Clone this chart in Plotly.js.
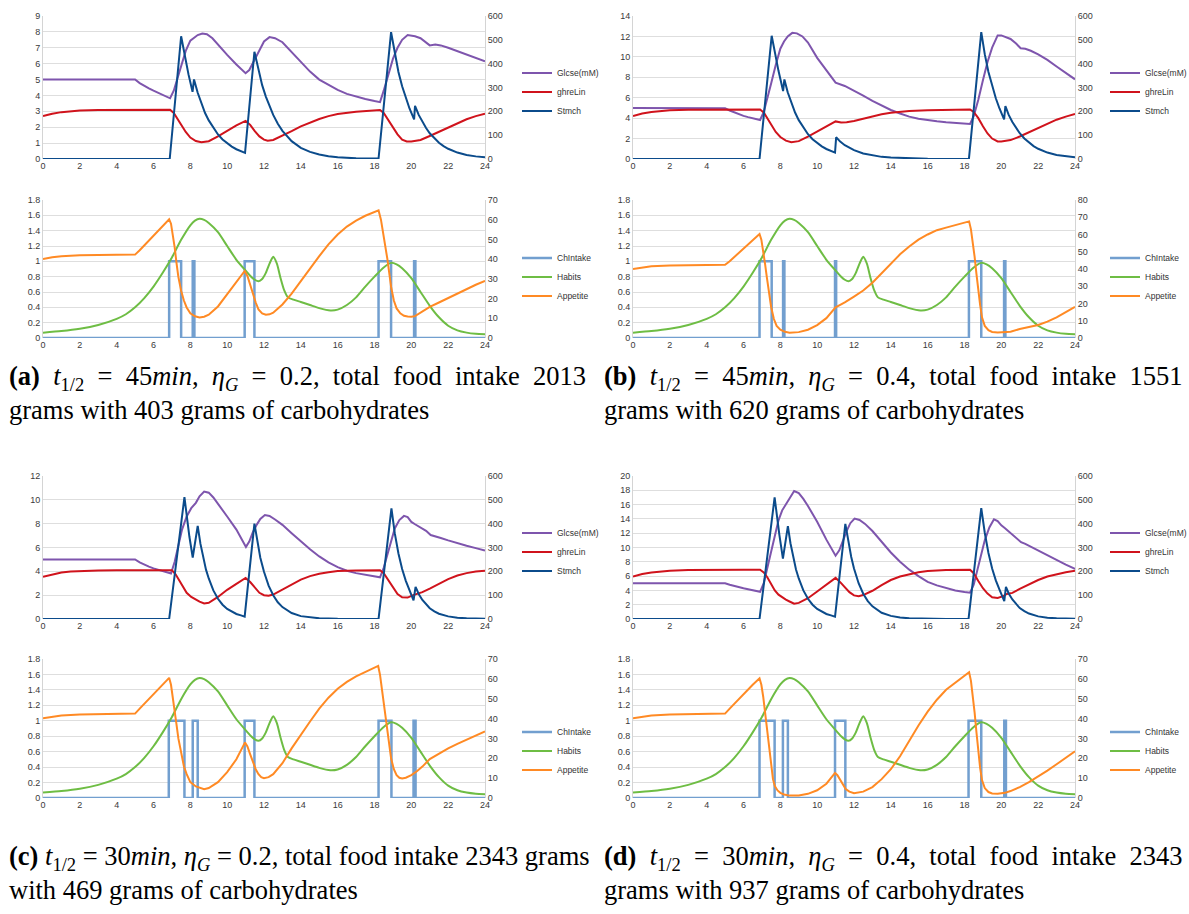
<!DOCTYPE html>
<html><head><meta charset="utf-8">
<script src="https://cdn.plot.ly/plotly-3.0.1.min.js"></script>
<style>html,body{margin:0;padding:0;background:#fff}#chart{width:1189px;height:914px}</style>
</head><body><div id="chart"></div>
<script>
// ---------- Panel (a) ----------
const aGlcT = [0,5,5.25,5.5,5.75,6,6.25,6.5,6.75,6.9,7.1,7.3,7.5,7.75,8,8.2,8.4,8.65,8.9,9.2,9.5,10,10.5,10.8,11,11.2,11.5,11.8,12,12.3,12.6,13,13.5,14,14.5,15,15.5,16,16.5,17,17.5,18,18.3,18.5,18.75,19,19.25,19.5,19.8,20,20.2,20.5,20.8,21,21.3,21.6,22,22.5,23,23.5,24];
const aGlc  = [5,5,4.78,4.6,4.45,4.3,4.17,4.05,3.92,3.82,4.3,5.1,5.9,6.8,7.45,7.65,7.8,7.9,7.85,7.6,7.2,6.55,5.95,5.6,5.4,5.6,6.3,7.0,7.4,7.67,7.6,7.35,6.75,6.1,5.5,5.0,4.65,4.35,4.1,3.93,3.78,3.65,3.58,4.3,5.3,6.3,7.0,7.5,7.8,7.78,7.72,7.6,7.35,7.15,7.2,7.15,7.0,6.8,6.6,6.38,6.15];
const aGhrT = [0,0.5,1,1.5,2,3,4,5,6,6.9,7.1,7.3,7.5,7.75,8,8.3,8.6,9,9.5,10,10.5,11,11.25,11.5,11.75,12,12.2,12.5,13,13.5,14,14.5,15,15.5,16,17,18,18.3,18.5,18.75,19,19.25,19.5,19.75,20,20.2,20.5,21,21.5,22,22.5,23,23.5,24];
const aGhr  = [2.7,2.85,2.95,3.01,3.05,3.09,3.1,3.1,3.1,3.1,2.9,2.55,2.15,1.7,1.35,1.13,1.05,1.12,1.42,1.78,2.12,2.4,2.15,1.75,1.42,1.22,1.15,1.2,1.45,1.75,2.05,2.3,2.52,2.7,2.83,2.98,3.07,3.08,2.9,2.45,1.95,1.55,1.22,1.1,1.1,1.15,1.2,1.45,1.72,2.0,2.28,2.5,2.7,2.85];
const aStmT = [0,6.88,7.5,7.7,7.9,8.12,8.2,8.4,8.6,8.8,9,9.25,9.5,9.75,10,10.25,10.5,10.75,10.97,11.48,11.7,11.9,12.1,12.3,12.5,12.75,13,13.5,14,14.5,15,15.5,16,17,18,18.22,18.9,19.1,19.3,19.5,19.7,19.9,20.15,20.2,20.4,20.6,20.8,21,21.25,21.5,21.75,22,22.5,23,23.5,24];
const aStm  = [0,0,515,430,355,282,334,278,232,193,162,130,103,82,66,52,41,33,26,450,370,310,262,220,185,148,118,75,47,30,19,12,7,3,2,2,532,440,365,305,255,212,166,223,185,155,130,108,86,68,54,43,27,17,11,7];
const aIntT = [0,6.85,7.5,8.13,8.22,10.95,11.48,18.22,18.9,20.15,20.22,24];
const aInt  = [0,1,0,1,0,1,0,1,0,1,0,0];
const aAppT = [0,0.5,1,2,3,4,5,5.25,5.5,5.75,6,6.25,6.5,6.85,6.95,7.05,7.15,7.25,7.35,7.5,7.65,7.8,8,8.25,8.5,8.75,9,9.5,10,10.5,10.95,11.1,11.25,11.4,11.55,11.7,11.9,12.1,12.3,12.5,13,13.5,14,14.5,15,15.5,16,16.5,17,17.5,18,18.22,18.35,18.5,18.6,18.7,18.8,18.9,19.05,19.2,19.4,19.6,19.8,20,20.2,20.5,21,21.5,22,22.5,23,23.5,24];
const aApp  = [40,41,41.5,42,42.1,42.2,42.3,44.5,47,49.5,52,54.3,56.5,60.2,58,53,46,38,31,24,19,15.5,12.5,11,10.4,10.8,11.8,16,22,28,34,31.5,27,22,18,14.5,12.5,11.8,12,12.8,17,22.5,29,35.5,41.5,47.5,52.5,56.5,59.5,62,64,64.8,60,52,46,40,33,26,19,15,12.5,11.3,10.9,10.8,11.1,13,15.8,18,20.3,22.5,24.7,27,29];

// ---------- Habits (same schedule in every panel) ----------
const habT = [0,1,2,3,4,4.5,5,5.5,6,6.5,7,7.5,8,8.25,8.5,8.75,9,9.5,10,10.5,11,11.3,11.5,11.7,11.9,12.1,12.3,12.5,12.7,12.9,13.1,13.3,13.6,14,14.5,15,15.6,16,16.5,17,17.5,18,18.5,18.9,19.2,19.5,20,20.5,21,21.5,22,22.5,23,23.5,24];
const hab  = [0.07,0.09,0.12,0.17,0.25,0.31,0.4,0.52,0.67,0.85,1.05,1.28,1.47,1.53,1.555,1.54,1.5,1.38,1.2,1.02,0.88,0.8,0.76,0.74,0.77,0.85,0.97,1.06,0.97,0.78,0.62,0.53,0.5,0.47,0.43,0.39,0.36,0.37,0.43,0.53,0.67,0.8,0.92,0.98,0.96,0.91,0.78,0.6,0.42,0.27,0.16,0.1,0.07,0.055,0.05];

// ---------- Panel (b) ----------
const bGlcT = [0,5,5.25,5.5,5.75,6,6.25,6.5,6.75,6.9,7.1,7.3,7.5,7.75,8,8.2,8.4,8.65,8.9,9.2,9.5,10,10.5,11,11.5,12,12.5,13,13.5,14,14.5,15,15.5,16,16.5,17,17.5,18,18.3,18.5,18.75,19,19.25,19.5,19.8,20,20.2,20.5,20.8,21.05,21.3,21.6,22,22.5,23,23.5,24];
const bGlc  = [5,4.98,4.75,4.55,4.38,4.22,4.1,3.98,3.88,3.82,4.6,5.9,7.4,9.2,10.8,11.5,12.0,12.35,12.3,12.0,11.4,9.9,8.7,7.47,7.15,6.7,6.2,5.7,5.25,4.8,4.45,4.15,3.95,3.8,3.7,3.6,3.53,3.47,3.43,4.2,5.8,7.7,9.5,10.9,12.1,12.1,11.95,11.75,11.3,10.85,10.8,10.6,10.25,9.7,9.05,8.45,7.8];
const bGhrT = [0,0.5,1,1.5,2,3,4,5,6,6.9,7.1,7.3,7.5,7.75,8,8.3,8.6,9,9.5,10,10.5,11,11.3,11.6,12,12.5,13,13.5,14,15,16,17,18,18.3,18.5,18.75,19,19.25,19.5,19.8,20,20.2,20.5,21,21.5,22,22.5,23,23.5,24];
const bGhr  = [4.2,4.45,4.6,4.7,4.77,4.83,4.85,4.85,4.85,4.85,4.55,4.0,3.35,2.65,2.15,1.8,1.65,1.75,2.2,2.7,3.2,3.68,3.58,3.6,3.72,3.95,4.18,4.38,4.53,4.7,4.78,4.82,4.85,4.85,4.6,4.0,3.2,2.5,2.0,1.72,1.72,1.8,1.85,2.2,2.6,3.05,3.45,3.85,4.15,4.4];
const bStmT = [0,6.87,7.53,7.7,7.9,8.15,8.22,8.4,8.6,8.8,9,9.25,9.5,9.75,10,10.25,10.5,10.75,10.97,11.03,11.25,11.5,11.75,12,12.5,13,13.5,14,15,16,17,18,18.24,18.91,19.1,19.3,19.5,19.7,19.9,20.15,20.22,20.4,20.6,20.8,21,21.25,21.5,21.75,22,22.5,23,23.5,24];
const bStm  = [0,0,517,445,370,285,334,280,234,195,163,131,104,83,66,53,42,33,27,91,73,58,46,37,23,15,9,6,2,1,0.5,0.3,0.3,532,440,365,305,255,212,166,222,185,155,130,108,86,68,54,43,27,17,11,7];
const bIntT = [0,6.87,7.53,8.15,8.22,10.97,11.03,18.24,18.91,20.15,20.22,24];
const bInt  = [0,1,0,1,0,1,0,1,0,1,0,0];
const bAppT = [0,0.5,1,2,3,4,5,5.25,5.5,5.75,6,6.25,6.5,6.87,6.97,7.07,7.17,7.27,7.37,7.5,7.65,7.8,8,8.25,8.5,8.75,9,9.5,10,10.5,11,11.25,11.5,12,12.5,13,13.5,14,14.5,15,15.5,16,16.5,17,17.5,18,18.25,18.35,18.45,18.55,18.65,18.75,18.85,18.95,19.1,19.3,19.5,19.8,20.2,20.5,21,21.5,22,22.5,23,23.5,24];
const bApp  = [40,41,41.6,42.1,42.3,42.4,42.5,44.5,47,49.5,52,54.5,56.5,60.3,57,51,43,35,27,18,11,7,4.8,3.6,3.1,3.1,3.4,4.8,7.5,11.5,17.8,19.2,20.6,24,27.5,32,37.5,43,48.5,53,57,60,62.5,64,65.5,66.8,67.6,63,56,47,37,27,19,12,7,4.5,3.5,3.2,3.3,3.6,5.2,6.2,7.5,9.5,12,15,18];

// ---------- Panel (c) ----------
const cGlcT = [0,5,5.25,5.5,5.75,6,6.25,6.5,6.75,6.95,7.15,7.35,7.55,7.8,8.05,8.3,8.5,8.75,9,9.25,9.5,10,10.5,11.02,11.2,11.4,11.6,11.8,12.05,12.3,12.6,13,13.5,14,14.5,15,15.5,16,16.5,17,17.5,18,18.3,18.5,18.7,18.9,19.1,19.35,19.6,19.8,20,20.2,20.5,20.8,21.05,21.3,21.6,22,22.5,23,23.5,24];
const cGlc  = [5,5,4.75,4.55,4.4,4.25,4.12,4.0,3.9,3.82,4.8,6.2,7.5,8.6,9.3,9.75,10.3,10.7,10.6,10.2,9.7,8.6,7.5,6.05,6.5,7.3,7.9,8.4,8.72,8.65,8.35,7.9,7.2,6.5,5.85,5.25,4.75,4.35,4.05,3.85,3.7,3.57,3.5,4.3,5.4,6.6,7.6,8.3,8.65,8.55,8.15,7.95,7.7,7.4,7.05,6.95,6.8,6.6,6.35,6.15,5.95,5.75];
const cGhrT = [0,0.5,1,1.5,2,3,4,5,6,7,7.2,7.4,7.6,7.8,8.05,8.3,8.5,8.75,9,9.5,10,10.5,11,11.25,11.5,11.75,12,12.25,12.5,13,13.5,14,14.5,15,15.5,16,17,18.3,18.5,18.75,19,19.25,19.5,19.8,20.1,20.3,20.6,21,21.5,22,22.5,23,23.5,24];
const cGhr  = [3.55,3.75,3.9,3.98,4.03,4.08,4.1,4.1,4.1,4.1,3.75,3.2,2.65,2.2,1.85,1.62,1.45,1.3,1.36,1.85,2.45,2.95,3.45,3.1,2.6,2.2,2.0,1.95,2.05,2.45,2.9,3.3,3.6,3.8,3.93,4.02,4.08,4.1,3.85,3.25,2.6,2.1,1.82,1.8,2.0,2.1,2.25,2.55,2.95,3.35,3.65,3.85,3.98,4.05];
const cStmT = [0,6.85,7.68,7.8,7.95,8.13,8.4,8.55,8.7,8.85,9,9.25,9.5,9.75,10,10.25,10.5,10.75,10.95,11.48,11.65,11.8,12,12.25,12.5,12.75,13,13.5,14,14.5,15,16,17,18.22,18.92,19.1,19.3,19.5,19.7,19.9,20.12,20.23,20.4,20.6,20.8,21,21.25,21.5,22,22.5,23,24];
const cStm  = [0,0,511,430,345,258,391,315,255,207,170,120,85,60,42,30,21,15,10,400,318,257,198,140,100,70,50,25,12,6,3,1,0.5,0.5,464,360,275,210,160,122,78,135,105,80,60,45,32,22,11,5,3,1];
const cIntT = [0,6.83,7.68,8.13,8.4,10.95,11.48,18.22,18.92,20.12,20.23,24];
const cInt  = [0,1,0,1,0,1,0,1,0,1,0,0];
const cAppT = [0,0.5,1,2,3,4,5,5.25,5.5,5.75,6,6.25,6.5,6.85,6.95,7.05,7.15,7.25,7.35,7.5,7.65,7.8,8,8.3,8.6,8.75,9,9.5,10,10.5,10.97,11.1,11.25,11.4,11.55,11.7,11.85,12,12.25,12.5,13,13.5,14,14.5,15,15.5,16,16.5,17,17.5,18,18.2,18.3,18.4,18.5,18.6,18.7,18.8,18.9,19.05,19.2,19.35,19.5,19.7,20,20.3,20.6,21,21.5,22,22.5,23,23.5,24];
const cApp  = [40.2,41,41.6,42.1,42.3,42.4,42.5,45,47.5,50,52.5,54.8,57,60.5,57,51,44,37,30,22,16,12,8,5.8,4.6,4.4,5,8,13,19.5,28,26,22,18,14.5,12,10.5,10,10.5,12,17.5,25,32,38.5,45,50.5,55,58.5,61.3,63.5,65.6,66.5,62,55,48,40,33,26,20,14.5,11.5,10.2,9.8,10.2,11.5,13.5,15.8,19.6,22.5,25,27.3,29.5,31.5,33.5];

// ---------- Panel (d) ----------
const dGlcT = [0,5,5.25,5.5,5.75,6,6.25,6.5,6.75,6.9,7.1,7.3,7.5,7.7,7.9,8.1,8.3,8.5,8.75,9,9.25,9.5,10,10.5,11,11.2,11.4,11.6,11.8,12.03,12.3,12.6,13,13.5,14,14.5,15,15.5,16,16.5,17,17.5,18,18.3,18.5,18.7,18.9,19.1,19.35,19.6,19.8,20,20.2,20.5,20.8,21.07,21.3,21.6,22,22.5,23,23.5,24];
const dGlc  = [5,5,4.8,4.6,4.45,4.3,4.17,4.05,3.92,3.8,5.0,7.2,9.6,11.8,13.8,15.2,16.0,16.8,17.9,17.6,16.8,15.8,13.6,11.1,8.85,9.6,11.0,12.3,13.4,14.05,13.85,13.3,12.3,10.8,9.3,8.0,6.9,6.0,5.2,4.7,4.3,4.0,3.78,3.68,4.8,6.8,9.0,11.0,12.8,13.95,13.7,13.1,12.7,12.0,11.3,10.75,10.5,10.1,9.55,8.9,8.2,7.6,7.0];
const dGhrT = [0,0.5,1,1.5,2,3,4,5,6,6.9,7.1,7.3,7.5,7.7,7.9,8.1,8.3,8.5,8.75,9,9.5,10,10.5,11,11.25,11.5,11.75,12,12.25,12.5,13,13.5,14,14.5,15,15.5,16,17,18.3,18.5,18.75,19,19.25,19.5,19.8,20.1,20.3,20.6,21,21.5,22,22.5,23,23.5,24];
const dGhr  = [5.95,6.3,6.5,6.65,6.75,6.85,6.9,6.9,6.9,6.9,6.5,5.8,4.9,4.0,3.4,3.0,2.7,2.45,2.15,2.25,2.9,3.85,4.8,5.75,5.15,4.4,3.75,3.3,3.2,3.35,3.95,4.75,5.45,5.95,6.3,6.55,6.7,6.85,6.9,6.4,5.3,4.3,3.55,3.05,2.95,3.2,3.5,3.65,4.2,4.85,5.45,5.95,6.3,6.55,6.75];
const dStmT = [0,6.87,7.69,7.8,7.95,8.14,8.41,8.55,8.7,8.85,9,9.25,9.5,9.75,10,10.25,10.5,10.75,10.97,11.53,11.7,11.85,12,12.25,12.5,12.75,13,13.5,14,14.5,15,16,17,18.22,18.91,19.1,19.3,19.5,19.7,19.9,20.16,20.25,20.4,20.6,20.8,21,21.25,21.5,22,22.5,23,24];
const dStm  = [0,0,510,440,352,253,390,318,257,208,170,120,85,60,42,30,21,15,10,399,315,260,212,150,106,75,53,26,13,6,3,1,0.5,0.5,465,362,277,212,162,123,75,135,107,82,62,46,33,23,11,5,3,1];
const dIntT = [0,6.87,7.69,8.14,8.41,10.97,11.53,18.22,18.91,20.16,20.25,24];
const dInt  = [0,1,0,1,0,1,0,1,0,1,0,0];
const dAppT = [0,0.5,1,2,3,4,5,5.25,5.5,5.75,6,6.25,6.5,6.87,6.97,7.07,7.17,7.27,7.37,7.5,7.6,7.7,7.85,8,8.2,8.5,8.8,9,9.5,10,10.5,10.97,11.1,11.25,11.4,11.55,11.75,12,12.5,13,13.5,14,14.5,15,15.5,16,16.5,17,17.5,18,18.25,18.35,18.45,18.55,18.65,18.75,18.85,18.95,19.1,19.3,19.5,19.8,20.2,20.5,21,21.5,22,22.5,23,23.5,24];
const dApp  = [40.2,41,41.6,42.1,42.3,42.4,42.5,45,47.5,50,52.5,54.8,57,60.3,57,51,43,34,25,15,9.5,6,3.8,2.6,1.8,1.2,1.1,1.3,2.1,3.9,7.2,12.6,11.5,9,6.5,4.5,3.2,2.4,3.2,5.5,9.5,14.5,21,29,36.5,43.5,49.5,54.5,58,61.5,63.3,59,52,43,33,23,15,9,5,3,2.3,2.1,2.6,3.5,5.5,8,10.8,13.8,17,20.2,23.5];

// ---------- Labels ----------
const topNames = ["Glcse(mM)", "ghreLin", "Stmch"];
const botNames = ["ChIntake", "Habits", "Appetite"];
const topLeftMax = [9, 14, 12, 20];
const topLeftStep = [1, 2, 2, 2];
const topRightMax = [600, 600, 600, 600];
const botRightMax = [70, 80, 70, 70];
const captions = [
  ["<b>(a)</b>\u00a0\u00a0<i>t</i><sub>1/2</sub>\u00a0\u00a0=\u00a0\u00a045<i>min</i>,\u00a0\u00a0<i>η</i><sub><i>G</i></sub>\u00a0\u00a0=\u00a0\u00a00.2,\u00a0\u00a0total\u00a0\u00a0food\u00a0\u00a0intake\u00a0\u00a02013", "grams with 403 grams of carbohydrates"],
  ["<b>(b)</b>\u00a0\u00a0<i>t</i><sub>1/2</sub>\u00a0\u00a0=\u00a0\u00a045<i>min</i>,\u00a0\u00a0<i>η</i><sub><i>G</i></sub>\u00a0\u00a0=\u00a0\u00a00.4,\u00a0\u00a0total\u00a0\u00a0food\u00a0\u00a0intake\u00a0\u00a01551", "grams with 620 grams of carbohydrates"],
  ["<b>(c)</b> <i>t</i><sub>1/2</sub> = 30<i>min</i>, <i>η</i><sub><i>G</i></sub> = 0.2, total food intake 2343 grams", "with 469 grams of carbohydrates"],
  ["<b>(d)</b>\u00a0\u00a0<i>t</i><sub>1/2</sub>\u00a0\u00a0=\u00a0\u00a030<i>min</i>,\u00a0\u00a0<i>η</i><sub><i>G</i></sub>\u00a0\u00a0=\u00a0\u00a00.4,\u00a0\u00a0total\u00a0\u00a0food\u00a0\u00a0intake\u00a0\u00a02343", "grams with 937 grams of carbohydrates"]
];

// ---------- Build ----------
const panels = [
  {glc:[aGlcT,aGlc], ghr:[aGhrT,aGhr], stm:[aStmT,aStm], int:[aIntT,aInt], app:[aAppT,aApp]},
  {glc:[bGlcT,bGlc], ghr:[bGhrT,bGhr], stm:[bStmT,bStm], int:[bIntT,bInt], app:[bAppT,bApp]},
  {glc:[cGlcT,cGlc], ghr:[cGhrT,cGhr], stm:[cStmT,cStm], int:[cIntT,cInt], app:[cAppT,cApp]},
  {glc:[dGlcT,dGlc], ghr:[dGhrT,dGhr], stm:[dStmT,dStm], int:[dIntT,dInt], app:[dAppT,dApp]}
];
const W = 1189, H = 914;
const colPx = [[43, 485], [633, 1075]];
const rowPx = [[[16, 159], [200, 338]], [[476, 619], [659, 798]]];
const legendTextX = [557, 1145];
const legendMidY = [[92, 277], [552, 751]];
const capX = [7, 602];
const capY = [[378, 410], [858, 890]];

const colors = {glc:'#7e55ad', ghr:'#d0131c', stm:'#0b4b8b', int:'#729fcf', hab:'#6ebd44', app:'#ff8a24'};
const tickFont = {family:'Liberation Sans, Arial, sans-serif', size:9, color:'#3a3a3a'};
const gridColor = '#dedede';
const lineColor = '#d4d4d4';

const traces = [];
const layout = {
  width: W, height: H, margin:{l:0,r:0,t:0,b:0,autoexpand:false},
  paper_bgcolor:'#ffffff', plot_bgcolor:'rgba(0,0,0,0)',
  showlegend:true, hovermode:false, annotations:[]
};

function axKey(p, n){ return p + 'axis' + (n === 1 ? '' : n); }
function axRef(p, n){ return p + (n === 1 ? '' : n); }

panels.forEach((P, i) => {
  const col = i % 2, row = Math.floor(i / 2);
  for (let s = 0; s < 2; s++) {
    const k = 2 * i + s + 1;         // plot index 1..8
    const kr = k + 8;                 // right y axis index
    const xr = axRef('x', k), yl = axRef('y', k), yr = axRef('y', kr);
    const legId = k === 1 ? 'legend' : 'legend' + k;
    const [top, bot] = rowPx[row][s];
    const xd = [colPx[col][0] / W, colPx[col][1] / W];
    const yd = [1 - bot / H, 1 - top / H];
    layout[axKey('x', k)] = {domain: xd, anchor: yl, range: [0, 24], tick0: 0, dtick: 2,
      showgrid: false, zeroline: false, showline: false, ticks: '', tickfont: tickFont, fixedrange: true};
    const leftMax = s === 0 ? topLeftMax[i] : 1.8;
    const leftStep = s === 0 ? topLeftStep[i] : 0.2;
    const rightMax = s === 0 ? topRightMax[i] : botRightMax[i];
    const rightStep = s === 0 ? 100 : 10;
    layout[axKey('y', k)] = {domain: yd, anchor: xr, range: [0, leftMax], tick0: 0, dtick: leftStep,
      showgrid: true, gridcolor: gridColor, gridwidth: 1, zeroline: false, showline: true, linecolor: lineColor,
      ticks: '', tickfont: tickFont, fixedrange: true};
    layout[axKey('y', kr)] = {overlaying: yl, side: 'right', anchor: xr, range: [0, rightMax], tick0: 0, dtick: rightStep,
      showgrid: false, zeroline: false, showline: true, linecolor: lineColor, ticks: '', tickfont: tickFont, fixedrange: true};
    layout[legId] = {x: (legendTextX[col] - 40) / W, y: 1 - legendMidY[row][s] / H, xanchor: 'left', yanchor: 'middle',
      bgcolor: 'rgba(0,0,0,0)', borderwidth: 0, font: {family: 'Liberation Sans, Arial, sans-serif', size: 8.5, color: '#333'},
      traceorder: 'normal', itemclick: false, itemdoubleclick: false};
    if (s === 0) {
      traces.push({x: P.glc[0], y: P.glc[1], xaxis: xr, yaxis: yl, name: topNames[0], legend: legId, mode: 'lines', line: {color: colors.glc, width: 2}});
      traces.push({x: P.ghr[0], y: P.ghr[1], xaxis: xr, yaxis: yl, name: topNames[1], legend: legId, mode: 'lines', line: {color: colors.ghr, width: 2}});
      traces.push({x: P.stm[0], y: P.stm[1], xaxis: xr, yaxis: yr, name: topNames[2], legend: legId, mode: 'lines', line: {color: colors.stm, width: 2}});
    } else {
      traces.push({x: P.int[0], y: P.int[1], xaxis: xr, yaxis: yl, name: botNames[0], legend: legId, mode: 'lines', line: {color: colors.int, width: 2.5, shape: 'hv'}});
      traces.push({x: habT, y: hab, xaxis: xr, yaxis: yl, name: botNames[1], legend: legId, mode: 'lines', line: {color: colors.hab, width: 2, shape: 'spline', smoothing: 0.6}});
      traces.push({x: P.app[0], y: P.app[1], xaxis: xr, yaxis: yr, name: botNames[2], legend: legId, mode: 'lines', line: {color: colors.app, width: 2}});
    }
  }
  captions[i].forEach((txt, j) => {
    layout.annotations.push({text: txt, xref: 'paper', yref: 'paper', x: capX[col] / W, y: 1 - capY[row][j] / H,
      xanchor: 'left', yanchor: 'middle', showarrow: false, align: 'left',
      font: {family: 'Liberation Serif, Times New Roman, serif', size: 26.5, color: '#000'}});
  });
});

Plotly.newPlot('chart', traces, layout, {staticPlot: true, displayModeBar: false});
</script></body></html>
